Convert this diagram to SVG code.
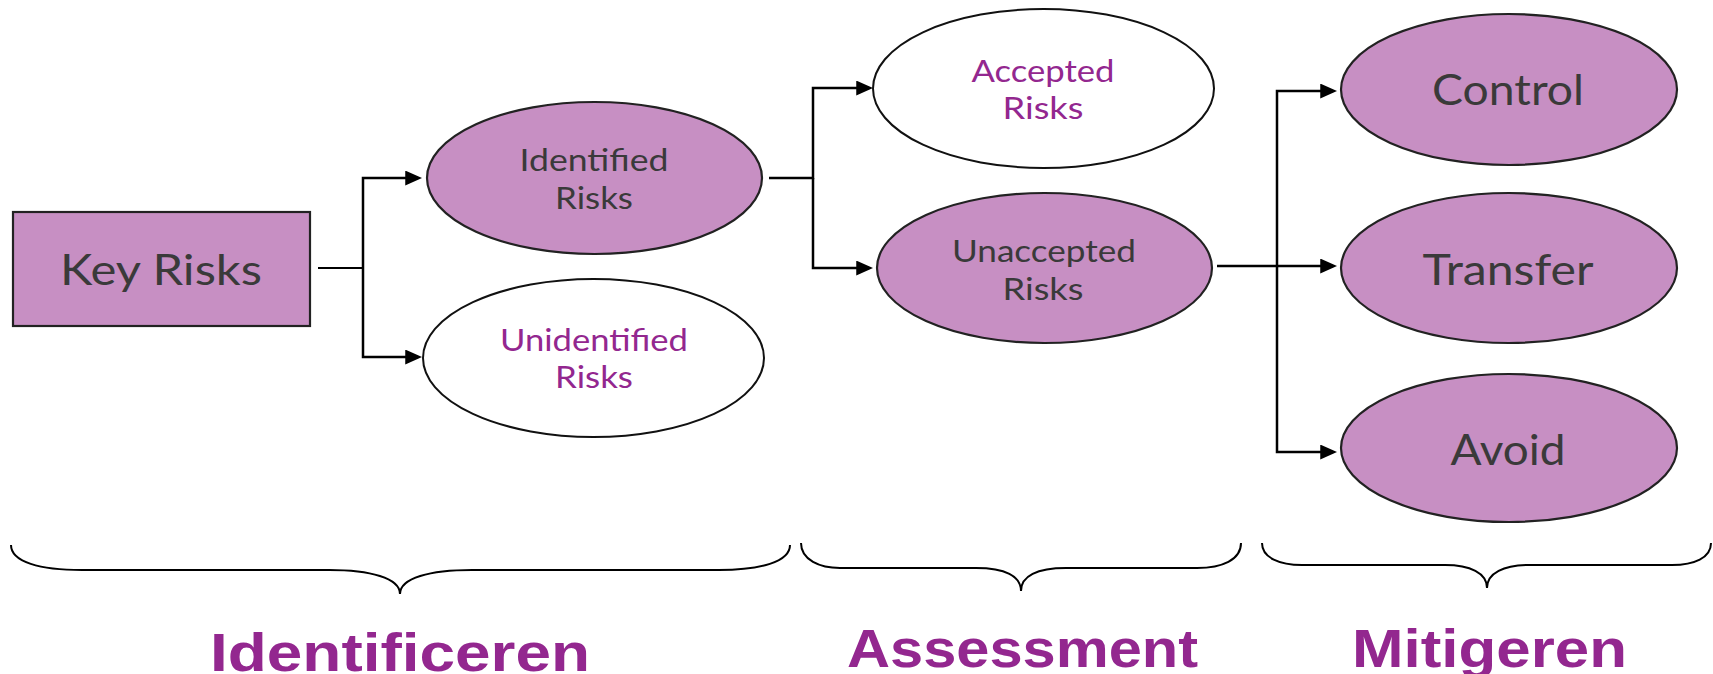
<svg xmlns="http://www.w3.org/2000/svg" width="1713" height="674" viewBox="0 0 1713 674">
<style>
.fill{fill:#C78FC3;stroke:#222;stroke-width:2.2}
.empty{fill:#fff;stroke:#111;stroke-width:2}
.lbl{font-family:Lato,"Open Sans","Liberation Sans",sans-serif;text-anchor:middle}
.dark{fill:#3a3a3a}
.pur{fill:#93278F}
.big{font-size:42px}
.mid{font-size:31px}
.conn{fill:none;stroke:#000;stroke-width:2.5}
.brace{fill:none;stroke:#000;stroke-width:2}
.title{font-family:"Liberation Sans",Arial,sans-serif;font-weight:bold;font-size:54px;fill:#93278F}
</style>
<defs>
<marker id="arr" viewBox="0 0 16 14" refX="12" refY="7" markerWidth="17" markerHeight="15" markerUnits="userSpaceOnUse" orient="auto">
<path d="M0,0 L16,7 L0,14 z" fill="#000"/>
</marker>
</defs>
<rect width="1713" height="674" fill="#fff"/>

<g id="connectors">
<path class="conn" style="stroke-width:1.8" d="M318,268 H363"/>
<path class="conn" d="M363,268 V178 H418" marker-end="url(#arr)"/>
<path class="conn" d="M363,268 V357 H418" marker-end="url(#arr)"/>
<path class="conn" d="M769,178 H813 V88 H869" marker-end="url(#arr)"/>
<path class="conn" d="M813,178 V268 H869" marker-end="url(#arr)"/>
<path class="conn" d="M1217,266 H1333" marker-end="url(#arr)"/>
<path class="conn" d="M1277,266 V91 H1333" marker-end="url(#arr)"/>
<path class="conn" d="M1277,266 V452 H1333" marker-end="url(#arr)"/>
</g>

<g id="key-risks">
<rect class="fill" x="13" y="212" width="297" height="114"/>
<text class="lbl dark big" x="161" y="285" textLength="202" lengthAdjust="spacingAndGlyphs">Key Risks</text>
</g>
<g id="identified">
<ellipse class="fill" cx="594.5" cy="178" rx="167.5" ry="76"/>
<text class="lbl dark mid" x="594" y="171" textLength="149" lengthAdjust="spacingAndGlyphs">Identified</text>
<text class="lbl dark mid" x="594" y="209" textLength="78" lengthAdjust="spacingAndGlyphs">Risks</text>
</g>
<g id="unidentified">
<ellipse class="empty" cx="593.5" cy="358" rx="170.5" ry="79"/>
<text class="lbl pur mid" x="594" y="351" textLength="188" lengthAdjust="spacingAndGlyphs">Unidentified</text>
<text class="lbl pur mid" x="594" y="388" textLength="78" lengthAdjust="spacingAndGlyphs">Risks</text>
</g>
<g id="accepted">
<ellipse class="empty" cx="1043.5" cy="88.5" rx="170.5" ry="79.5"/>
<text class="lbl pur mid" x="1043" y="82" textLength="143" lengthAdjust="spacingAndGlyphs">Accepted</text>
<text class="lbl pur mid" x="1043" y="119" textLength="81" lengthAdjust="spacingAndGlyphs">Risks</text>
</g>
<g id="unaccepted">
<ellipse class="fill" cx="1044.5" cy="268" rx="167.5" ry="75"/>
<text class="lbl dark mid" x="1044" y="262" textLength="184" lengthAdjust="spacingAndGlyphs">Unaccepted</text>
<text class="lbl dark mid" x="1043" y="300" textLength="81" lengthAdjust="spacingAndGlyphs">Risks</text>
</g>
<g id="control">
<ellipse class="fill" cx="1509" cy="89.5" rx="168" ry="75.5"/>
<text class="lbl dark big" x="1508" y="105" textLength="152" lengthAdjust="spacingAndGlyphs">Control</text>
</g>
<g id="transfer">
<ellipse class="fill" cx="1509" cy="268" rx="168" ry="75"/>
<text class="lbl dark big" x="1508" y="285" textLength="171" lengthAdjust="spacingAndGlyphs">Transfer</text>
</g>
<g id="avoid">
<ellipse class="fill" cx="1509" cy="448" rx="168" ry="74"/>
<text class="lbl dark big" x="1508" y="465" textLength="115" lengthAdjust="spacingAndGlyphs">Avoid</text>
</g>

<g id="braces">
<path class="brace" d="M11,545 C11,562 40,570 82,570 L329,570 C370,570 400,578 400,594 C400,578 430,570 472,570 L719,570 C760,570 790,562 790,545"/>
<path class="brace" d="M801,543 C801,560 820,568 840,568 L976,568 C1005,568 1021,576 1021,591 C1021,576 1037,568 1066,568 L1197,568 C1222,568 1241,560 1241,543"/>
<path class="brace" d="M1262,543 C1262,558 1280,565 1302,565 L1445,565 C1470,565 1487,573 1487,588 C1487,573 1504,565 1529,565 L1672,565 C1694,565 1711,558 1711,543"/>
</g>

<g id="titles">
<text class="title" x="210" y="671" textLength="380" lengthAdjust="spacingAndGlyphs">Identificeren</text>
<text class="title" x="847" y="667" textLength="351" lengthAdjust="spacingAndGlyphs">Assessment</text>
<text class="title" x="1352" y="667" textLength="275" lengthAdjust="spacingAndGlyphs">Mitigeren</text>
</g>
</svg>
